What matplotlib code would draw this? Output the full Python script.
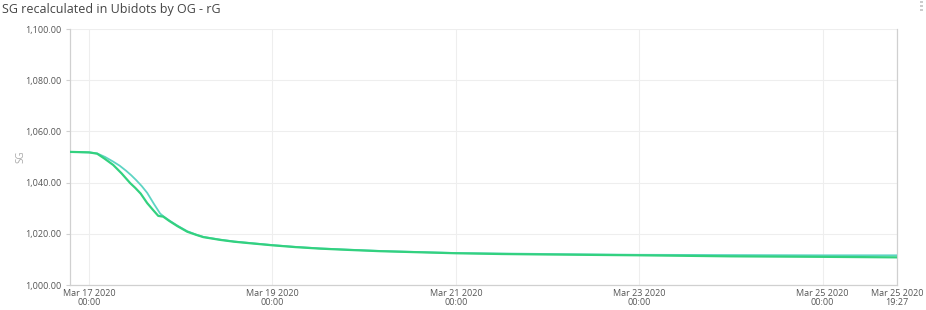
import datetime as dt
import matplotlib.pyplot as plt

plt.rcParams['font.family'] = ['Open Sans', 'DejaVu Sans']

t0 = dt.datetime(2020, 3, 17, 0, 0)

# hours relative to Mar 17 2020 00:00
green_hours = [-5.0, 0, 2.1, 4.0, 6.3, 8.5, 10.75, 12.1, 13.5, 15.2, 16.8, 18.1, 19.4,
               21.0, 23.1, 25.7, 28.0, 29.9, 34.4, 38.0, 42.2, 48, 54, 60.5, 68, 76.3,
               86, 96, 108, 121, 144, 168, 192, 211.45]
green_sg = [1052.0, 1051.8, 1051.3, 1049.4, 1046.9, 1043.6, 1039.8, 1037.9, 1035.7,
            1032.0, 1029.2, 1027.0, 1026.7, 1025.0, 1023.0, 1020.8, 1019.6, 1018.7,
            1017.6, 1016.9, 1016.3, 1015.5, 1014.8, 1014.2, 1013.7, 1013.2, 1012.8,
            1012.4, 1012.1, 1011.9, 1011.6, 1011.2, 1011.0, 1010.8]

teal_hours = [-5.0, 0, 2.1, 4.2, 6.3, 8.0, 9.7, 11.0, 12.3, 13.8, 15.2, 17.0, 18.6,
              19.4, 21.0, 23.1, 25.7, 28.0, 29.9, 34.4, 38.0, 42.2, 48, 54, 60.5, 68,
              76.3, 86, 96, 108, 121, 144, 168, 192, 211.45]
teal_sg = [1052.0, 1051.8, 1051.4, 1050.0, 1048.2, 1046.6, 1044.6, 1042.9, 1041.0,
           1038.6, 1036.0, 1031.6, 1027.9, 1026.9, 1025.2, 1023.2, 1021.0, 1019.7,
           1018.8, 1017.7, 1017.0, 1016.4, 1015.6, 1014.9, 1014.3, 1013.8, 1013.3,
           1012.9, 1012.5, 1012.3, 1012.1, 1011.8, 1011.7, 1011.6, 1011.6]

tick_times = [dt.datetime(2020, 3, d) for d in (17, 19, 21, 23, 25)] + [dt.datetime(2020, 3, 25, 19, 27)]
tick_labels = ['Mar 17 2020\n00:00', 'Mar 19 2020\n00:00', 'Mar 21 2020\n00:00',
               'Mar 23 2020\n00:00', 'Mar 25 2020\n00:00', 'Mar 25 2020\n19:27']
y_ticks = [1000, 1020, 1040, 1060, 1080, 1100]

green_t = [t0 + dt.timedelta(hours=h) for h in green_hours]
teal_t = [t0 + dt.timedelta(hours=h) for h in teal_hours]

fig = plt.figure(figsize=(9.26, 3.10), dpi=100)
ax = fig.add_axes([70 / 926, 25 / 310, 827 / 926, 256 / 310])

ax.plot(teal_t, teal_sg, color='#5dd4c3', lw=1.3, zorder=3)
ax.plot(green_t, green_sg, color='#33d17f', lw=1.6, zorder=4)

ax.set_xlim(green_t[0], green_t[-1])
ax.set_ylim(1000, 1100)
ax.set_yticks(y_ticks)
ax.set_yticklabels([f'{v:,.2f}' for v in y_ticks])
ax.set_xticks(tick_times)
ax.set_xticklabels(tick_labels, linespacing=0.95)

ax.grid(True, color='#eeeeee', lw=0.8)
ax.set_axisbelow(True)
for side in ('left', 'bottom', 'right'):
    ax.spines[side].set_color('#d0d0d0')
    ax.spines[side].set_linewidth(0.9)
ax.spines['top'].set_visible(False)
ax.tick_params(axis='both', labelsize=6.5, colors='#d0d0d0', labelcolor='#555555', length=3)
ax.tick_params(axis='x', length=0, pad=3)

ax.set_ylabel('SG', fontsize=7, color='#aaaaaa', labelpad=-1)

fig.text(2 / 926, 1 - 10 / 310, 'SG recalculated in Ubidots by OG - rG', fontsize=9,
         color='#444444', va='center', ha='left')
for yy in (0.5, 4.5, 8.5):
    fig.patches.append(plt.Rectangle((920 / 926, 1 - (yy + 2.5) / 310), 2.5 / 926, 2.5 / 310,
                                     transform=fig.transFigure, color='#cccccc', lw=0))

fig.savefig('out.png', dpi=100)
